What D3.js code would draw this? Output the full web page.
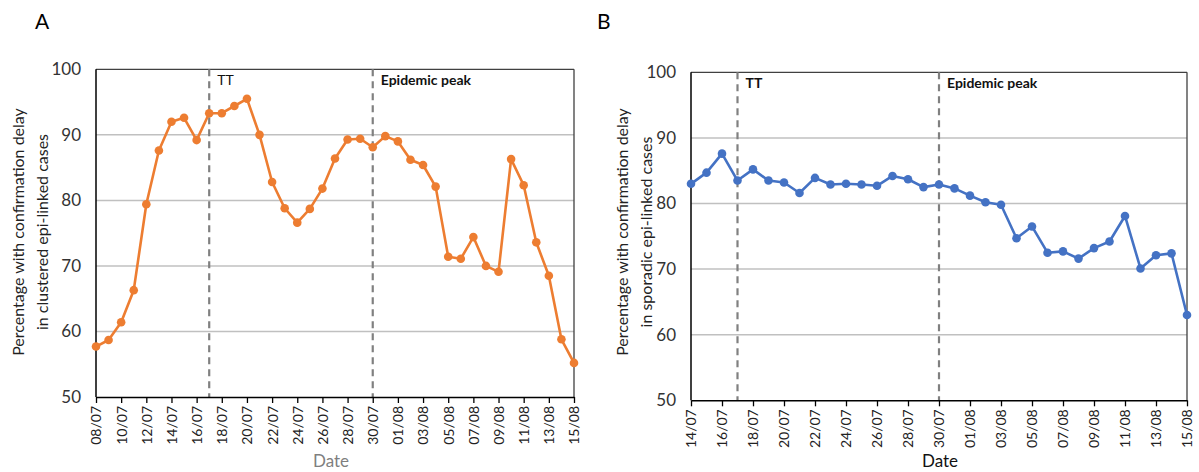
<!DOCTYPE html>
<html><head><meta charset="utf-8">
<script src="https://cdn.jsdelivr.net/npm/d3@7"></script>
<style>
body{margin:0;background:#fff;}
text{font-family:Lato,"Open Sans",sans-serif;}
</style></head>
<body><svg id="c" width="1199" height="472"></svg>
<script>
const datesA = ["08/07","09/07","10/07","11/07","12/07","13/07","14/07","15/07","16/07","17/07","18/07","19/07","20/07","21/07","22/07","23/07","24/07","25/07","26/07","27/07","28/07","29/07","30/07","31/07","01/08","02/08","03/08","04/08","05/08","06/08","07/08","08/08","09/08","10/08","11/08","12/08","13/08","14/08","15/08"];
const valuesA = [57.7,58.7,61.4,66.3,79.4,87.6,92.0,92.6,89.2,93.3,93.3,94.4,95.5,90.0,82.8,78.8,76.6,78.7,81.8,86.4,89.3,89.4,88.1,89.8,89.0,86.2,85.4,82.1,71.4,71.1,74.4,70.0,69.1,86.3,82.3,73.6,68.5,58.8,55.2];
const datesB = ["14/07","15/07","16/07","17/07","18/07","19/07","20/07","21/07","22/07","23/07","24/07","25/07","26/07","27/07","28/07","29/07","30/07","31/07","01/08","02/08","03/08","04/08","05/08","06/08","07/08","08/08","09/08","10/08","11/08","12/08","13/08","14/08","15/08"];
const valuesB = [83.0,84.7,87.6,83.5,85.2,83.5,83.2,81.6,83.9,82.9,83.0,82.9,82.7,84.2,83.7,82.5,82.9,82.3,81.2,80.2,79.8,74.7,76.5,72.5,72.7,71.6,73.2,74.2,78.1,70.1,72.1,72.4,63.0];
const yTicks = [50,60,70,80,90,100];
const markersA = [{date:"17/07",label:"TT",bold:false},{date:"30/07",label:"Epidemic peak",bold:true}];
const markersB = [{date:"17/07",label:"TT",bold:true},{date:"30/07",label:"Epidemic peak",bold:true}];
const titleA = ["Percentage with confirmation delay","in clustered epi-linked cases"];
const titleB = ["Percentage with confirmation delay","in sporadic epi-linked cases"];

const svg = d3.select("#c");

function panel(o){
  const g = svg.append("g");
  const x = d3.scalePoint().domain(o.dates).range([o.x0,o.x1]);
  const y = d3.scaleLinear().domain([50,100]).range([o.y0,o.y1]);
  g.selectAll(".grid").data(yTicks.filter(t=>t>50&&t<100)).join("line")
    .attr("x1",o.x0).attr("x2",o.x1).attr("y1",d=>y(d)).attr("y2",d=>y(d))
    .attr("stroke","#c0c0c0").attr("stroke-width",1.5);
  g.append("line").attr("x1",o.x0).attr("x2",o.x1).attr("y1",o.y1).attr("y2",o.y1).attr("stroke","#404040").attr("stroke-width",1.3);
  g.append("line").attr("x1",o.x1).attr("x2",o.x1).attr("y1",o.y1).attr("y2",o.y0).attr("stroke","#404040").attr("stroke-width",1.3);
  g.selectAll(".yl").data(yTicks).join("text")
    .attr("x",o.x0-15).attr("y",d=>y(d)).attr("dy","0.35em")
    .attr("text-anchor","end").attr("font-size",17).attr("fill","#333").text(d=>d);
  o.markers.forEach(m=>{
    g.append("line").attr("x1",x(m.date)).attr("x2",x(m.date)).attr("y1",o.y1).attr("y2",o.y0)
      .attr("stroke","#808080").attr("stroke-width",2.2).attr("stroke-dasharray","7,5");
    g.append("text").attr("x",x(m.date)+8).attr("y",o.y1+16)
      .attr("font-size",14).attr("font-weight",m.bold?"bold":"normal").attr("fill","#111").text(m.label);
  });
  const tickVals = o.dates.filter((d,i)=>i%2===0);
  const ax = g.append("g").attr("transform",`translate(0,${o.y0})`)
    .call(d3.axisBottom(x).tickValues(tickVals).tickSize(6).tickSizeOuter(0));
  ax.select(".domain").attr("stroke","#000").attr("stroke-width",1.5);
  ax.selectAll(".tick line").attr("stroke","#000").attr("stroke-width",1.3);
  ax.selectAll(".tick text").attr("transform","rotate(-90)").attr("text-anchor","end")
    .attr("x",-9).attr("y",0).attr("dy","0.35em").attr("font-size",14).attr("fill","#222")
    .style("font-family","Lato,'Open Sans',sans-serif");
  g.append("line").attr("x1",o.x0).attr("x2",o.x0).attr("y1",o.y1).attr("y2",o.y0).attr("stroke","#000").attr("stroke-width",1.5);
  const line = d3.line().x((d,i)=>x(o.dates[i])).y(d=>y(d));
  g.append("path").datum(o.values).attr("d",line).attr("fill","none")
    .attr("stroke",o.color).attr("stroke-width",2.6).attr("stroke-linejoin","round");
  g.selectAll(".pt").data(o.values).join("circle")
    .attr("cx",(d,i)=>x(o.dates[i])).attr("cy",d=>y(d)).attr("r",4.3).attr("fill",o.color);
  o.title.forEach((t,i)=>{
    g.append("text").attr("transform",`translate(${o.tx+i*24},${o.ty}) rotate(-90)`)
      .attr("text-anchor","middle").attr("dy","0.35em").attr("font-size",16).attr("fill","#222").text(t);
  });
  g.append("text").attr("x",o.dx).attr("y",467).attr("text-anchor","middle")
    .attr("font-size",17).attr("fill",o.dateColor).text("Date");
  g.append("text").attr("x",o.lx).attr("y",29).attr("font-size",21).attr("fill","#000").text(o.letter);
}

panel({dates:datesA,values:valuesA,markers:markersA,title:titleA,color:"#ED7D31",
  x0:96,x1:574,y0:397,y1:69.3,tx:18,ty:232,dx:331,dateColor:"#7f7f7f",letter:"A",lx:35});
panel({dates:datesB,values:valuesB,markers:markersB,title:titleB,color:"#4472C4",
  x0:691,x1:1187,y0:400.3,y1:72.3,tx:622,ty:232,dx:940,dateColor:"#111",letter:"B",lx:597});
</script></body></html>
